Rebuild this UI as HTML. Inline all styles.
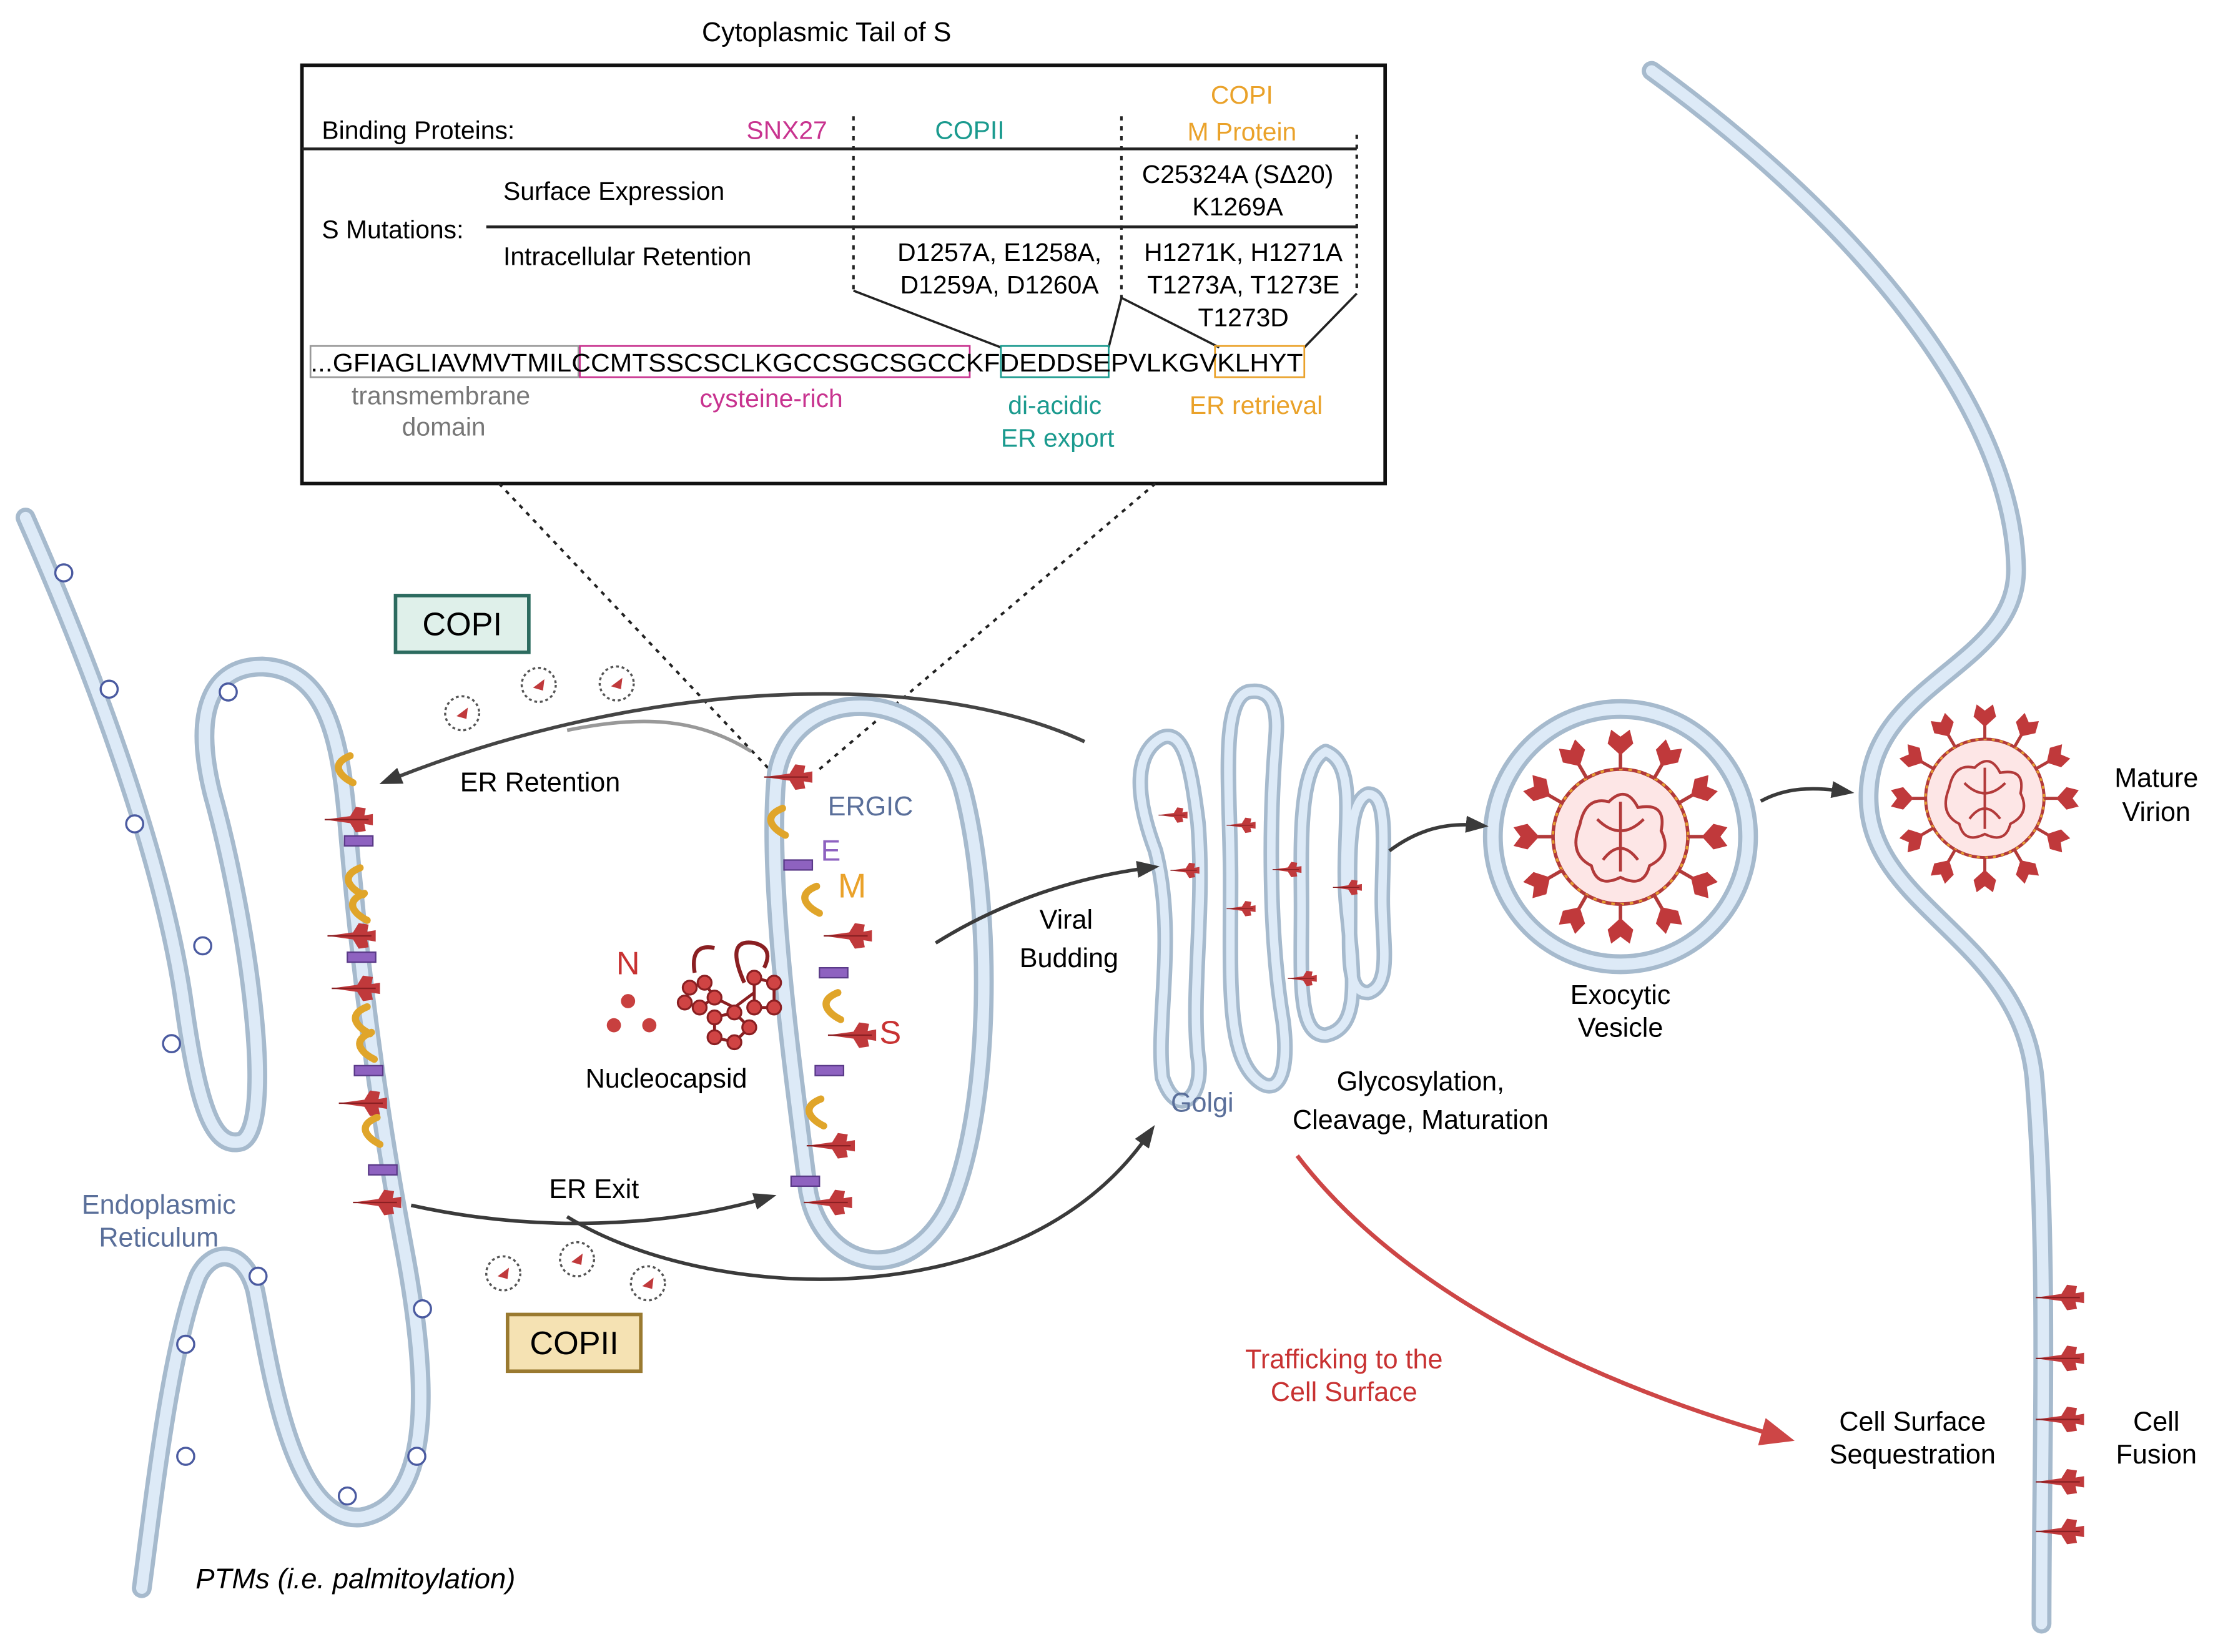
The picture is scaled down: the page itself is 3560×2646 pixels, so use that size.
<!DOCTYPE html>
<html><head><meta charset="utf-8"><style>
html,body{margin:0;padding:0;background:#fff}
svg{display:block}
text{font-family:"Liberation Sans",sans-serif}
</style></head><body>
<svg width="3560" height="2646" viewBox="0 0 1568 1165" preserveAspectRatio="none" xmlns="http://www.w3.org/2000/svg">
<defs>
<marker id="ah" markerWidth="16" markerHeight="12" refX="8" refY="6" orient="auto" markerUnits="userSpaceOnUse"><path d="M0,0 L16,6 L0,12 Z" fill="#3a3a3a"/></marker>
<marker id="ahr" markerWidth="24" markerHeight="20" refX="20" refY="10" orient="auto" markerUnits="userSpaceOnUse"><path d="M0,0 L24,10 L0,20 Z" fill="#c83232"/></marker>
<g id="spk"><path d="M-16,0 L2,-2.5 L6,-9 L13,-8 L12,-3 L18,-4 L18,4 L12,3 L13,8 L6,9 L2,2.5 Z" fill="#c0393b"/><path d="M-16,0 L15,0" stroke="#8a1f22" stroke-width="1"/></g>
<g id="mp"><path d="M4,-10 Q-6,-6 -4,0 Q-2,5 6,9" fill="none" stroke="#e0a52a" stroke-width="5" stroke-linecap="round"/></g>
<g id="ep"><rect x="-10" y="-3.5" width="20" height="7" fill="#8e62c0" stroke="#5a3a88" stroke-width="1"/></g>
<g id="ves"><circle r="12" fill="#fff" stroke="#555" stroke-width="1.5" stroke-dasharray="2 2"/><path d="M-4,2 L4,-4 L3,4 Z" fill="#c0393b"/></g>
<g id="vir">
<circle r="58" fill="#fde6e6" stroke="#b23a3a" stroke-width="3"/>
<circle r="58" fill="none" stroke="#e5a030" stroke-width="2" stroke-dasharray="3 5"/>
<g fill="#c0393b">
<g id="sp1"><path d="M0,-58 L0,-74" stroke="#b23a3a" stroke-width="3"/><path d="M0,-70 L-11,-80 L-8,-92 L0,-86 L8,-92 L11,-80 Z"/></g>
<use href="#sp1" transform="rotate(30)"/><use href="#sp1" transform="rotate(60)"/><use href="#sp1" transform="rotate(90)"/><use href="#sp1" transform="rotate(120)"/><use href="#sp1" transform="rotate(150)"/><use href="#sp1" transform="rotate(180)"/><use href="#sp1" transform="rotate(210)"/><use href="#sp1" transform="rotate(240)"/><use href="#sp1" transform="rotate(270)"/><use href="#sp1" transform="rotate(300)"/><use href="#sp1" transform="rotate(330)"/>
</g>
<g fill="none" stroke="#b23a3a" stroke-width="2.5">
<path d="M-35,-10 Q-30,-35 -10,-30 Q5,-45 15,-25 Q40,-30 35,-5 Q45,15 25,25 Q20,45 0,35 Q-20,45 -25,25 Q-45,15 -35,-10 Z"/>
<path d="M-20,-15 Q0,5 20,-15 M-15,20 Q0,0 15,20 M0,-30 L0,30"/>
</g>
</g>
</defs>

<!-- Top table -->
<text x="583" y="29" font-size="19" text-anchor="middle">Cytoplasmic Tail of S</text>
<rect x="213" y="46" width="764" height="295" fill="none" stroke="#111" stroke-width="2.5"/>
<line x1="213" y1="105" x2="957" y2="105" stroke="#222" stroke-width="2"/>
<line x1="343" y1="160" x2="957" y2="160" stroke="#222" stroke-width="2"/>
<g stroke="#222" stroke-width="1.8" stroke-dasharray="3 4">
<line x1="602" y1="82" x2="602" y2="205"/><line x1="791" y1="82" x2="791" y2="210"/><line x1="957" y1="95" x2="957" y2="207"/>
<line x1="352" y1="341" x2="545" y2="545"/><line x1="815" y1="341" x2="575" y2="545"/>
</g>
<g stroke="#222" stroke-width="1.6" fill="none">
<path d="M602,205 L706,245"/><path d="M791,210 L782,245"/><path d="M791,210 L860,245"/><path d="M957,207 L920,245"/>
</g>
<g font-size="18">
<text x="227" y="98">Binding Proteins:</text>
<text x="555" y="98" text-anchor="middle" fill="#c8338f">SNX27</text>
<text x="684" y="98" text-anchor="middle" fill="#1a9a8e">COPII</text>
<text x="876" y="73" text-anchor="middle" fill="#eaa22a">COPI</text>
<text x="876" y="99" text-anchor="middle" fill="#eaa22a">M Protein</text>
<text x="227" y="168">S Mutations:</text>
<text x="355" y="141">Surface Expression</text>
<text x="355" y="187">Intracellular Retention</text>
<text x="873" y="129" text-anchor="middle">C25324A (SΔ20)</text>
<text x="873" y="152" text-anchor="middle">K1269A</text>
<text x="705" y="184" text-anchor="middle">D1257A, E1258A,</text>
<text x="705" y="207" text-anchor="middle">D1259A, D1260A</text>
<text x="877" y="184" text-anchor="middle">H1271K, H1271A</text>
<text x="877" y="207" text-anchor="middle">T1273A, T1273E</text>
<text x="877" y="230" text-anchor="middle">T1273D</text>
</g>
<rect x="219" y="244" width="189" height="22" fill="none" stroke="#999" stroke-width="1.2"/>
<rect x="409" y="244" width="275" height="22" fill="none" stroke="#c8338f" stroke-width="1.2"/>
<rect x="706" y="244" width="76" height="22" fill="none" stroke="#1a9a8e" stroke-width="1.2"/>
<rect x="857" y="244" width="63" height="22" fill="none" stroke="#eaa22a" stroke-width="1.2"/>
<text x="219" y="262" font-size="18" textLength="700" lengthAdjust="spacingAndGlyphs">...GFIAGLIAVMVTMILCCMTSSCSCLKGCCSGCSGCCKFDEDDSEPVLKGVKLHYT</text>
<g font-size="18" text-anchor="middle">
<text x="311" y="285" fill="#777">transmembrane</text>
<text x="313" y="307" fill="#777">domain</text>
<text x="544" y="287" fill="#c8338f">cysteine-rich</text>
<text x="744" y="292" fill="#1a9a8e">di-acidic</text>
<text x="746" y="315" fill="#1a9a8e">ER export</text>
<text x="886" y="292" fill="#eaa22a">ER retrieval</text>
</g>

<!-- Membranes -->
<g fill="none" stroke-linecap="round" stroke-linejoin="round">
<g stroke="#a6bacd" stroke-width="14">
<path id="er" d="M18,365 C60,460 115,600 130,710 C140,780 150,810 170,805 C195,795 175,650 150,560 C135,500 150,470 185,470 C230,472 240,520 245,580 C255,700 270,800 285,880 C300,960 310,1060 255,1070 C205,1075 190,960 180,910 C172,880 150,880 140,900 C120,950 108,1060 100,1120"/>
<path id="pm" d="M1165,50 C1330,170 1420,300 1422,400 C1424,470 1320,480 1318,560 C1316,640 1425,660 1435,760 C1445,880 1440,1020 1440,1145"/>
<path id="ergic" d="M548,545 C560,480 660,480 680,560 C700,640 700,780 670,850 C640,910 580,895 570,840 C560,760 540,620 548,545 Z"/>
<circle id="ev" cx="1143" cy="590" r="90"/>
</g>
<g stroke="#a6bacd" stroke-width="11">
<path id="g1" d="M820,520 C800,530 800,560 815,600 C830,660 815,720 820,760 C830,790 850,775 845,745 C840,700 850,640 845,580 C840,540 835,515 820,520 Z"/>
<path id="g2" d="M880,488 C860,495 868,560 868,620 C868,690 865,740 885,760 C900,775 910,760 905,720 C895,660 895,580 900,520 C902,495 895,485 880,488 Z"/>
<path id="g3" d="M935,530 C915,540 918,600 918,640 C918,690 915,730 935,730 C960,725 955,690 950,640 C945,590 960,540 935,530 Z"/>
<path id="g4" d="M965,560 C950,565 952,610 952,640 C952,675 950,700 965,700 C982,695 975,665 975,635 C975,600 980,560 965,560 Z"/>
</g>
<g stroke="#ddeaf7" stroke-width="8">
<use href="#er"/><use href="#pm"/><use href="#ergic"/><use href="#ev"/>
</g>
<g stroke="#ddeaf7" stroke-width="6">
<use href="#g1"/><use href="#g2"/><use href="#g3"/><use href="#g4"/>
</g>
</g>
<g fill="#fff" stroke="#4a5aa0" stroke-width="1.5">
<circle cx="45" cy="404" r="6"/><circle cx="77" cy="486" r="6"/><circle cx="95" cy="581" r="6"/><circle cx="143" cy="667" r="6"/><circle cx="121" cy="736" r="6"/><circle cx="161" cy="488" r="6"/>
<circle cx="182" cy="900" r="6"/><circle cx="131" cy="948" r="6"/><circle cx="131" cy="1027" r="6"/><circle cx="245" cy="1055" r="6"/><circle cx="294" cy="1027" r="6"/><circle cx="298" cy="923" r="6"/>
</g>

<!-- ER proteins -->
<use href="#mp" x="243" y="543"/><use href="#spk" x="245" y="578"/><use href="#ep" x="253" y="593"/>
<use href="#mp" x="250" y="622"/><use href="#mp" x="253" y="640"/><use href="#spk" x="247" y="660"/><use href="#ep" x="255" y="675"/>
<use href="#spk" x="250" y="697"/><use href="#mp" x="255" y="720"/><use href="#mp" x="258" y="738"/><use href="#ep" x="260" y="755"/>
<use href="#spk" x="255" y="778"/><use href="#mp" x="262" y="798"/><use href="#ep" x="270" y="825"/><use href="#spk" x="265" y="848"/>
<!-- ERGIC proteins -->
<use href="#spk" x="555" y="548"/><use href="#mp" x="548" y="580"/><use href="#ep" x="563" y="610"/><use href="#mp" x="572" y="635"/>
<use href="#spk" x="597" y="660"/><use href="#ep" x="588" y="686"/><use href="#mp" x="587" y="710"/><use href="#spk" x="600" y="730"/>
<use href="#ep" x="585" y="755"/><use href="#mp" x="575" y="785"/><use href="#spk" x="585" y="808"/><use href="#ep" x="568" y="833"/><use href="#spk" x="583" y="848"/>
<!-- golgi spikes -->
<g transform="scale(0.6)">
<use href="#spk" x="1378" y="958"/><use href="#spk" x="1392" y="1023"/><use href="#spk" x="1458" y="970"/><use href="#spk" x="1458" y="1068"/><use href="#spk" x="1512" y="1022"/><use href="#spk" x="1583" y="1043"/><use href="#spk" x="1530" y="1150"/>
</g>
<!-- PM spikes -->
<use href="#spk" x="1452" y="915"/><use href="#spk" x="1452" y="958"/><use href="#spk" x="1452" y="1001"/><use href="#spk" x="1452" y="1045"/><use href="#spk" x="1452" y="1080"/>

<!-- nucleocapsid -->
<g fill="#c8403f"><circle cx="443" cy="706" r="5"/><circle cx="433" cy="723" r="5"/><circle cx="458" cy="723" r="5"/></g>
<g transform="translate(518,700) scale(0.7)">
<path d="M-40,-20 Q-45,-50 -20,-45 M10,-10 Q-10,-55 20,-50 Q40,-45 30,-25" fill="none" stroke="#8a1f22" stroke-width="4"/>
<g fill="none" stroke="#8a1f22" stroke-width="3"><path d="M-45,-5 L-30,-10 L-20,5 L-35,15 L-50,10 Z"/><path d="M20,-15 L40,-10 L40,15 L20,15 Z"/><path d="M-20,25 L0,20 L15,35 L0,50 L-20,45 Z"/><path d="M-20,5 L0,15 L20,0"/></g>
<g fill="#d04444" stroke="#8a1f22" stroke-width="2"><circle cx="-45" cy="-5" r="7"/><circle cx="-30" cy="-10" r="7"/><circle cx="-20" cy="5" r="7"/><circle cx="-35" cy="15" r="7"/><circle cx="-50" cy="10" r="7"/><circle cx="20" cy="-15" r="7"/><circle cx="40" cy="-10" r="7"/><circle cx="40" cy="15" r="7"/><circle cx="20" cy="15" r="7"/><circle cx="-20" cy="25" r="7"/><circle cx="0" cy="20" r="7"/><circle cx="15" cy="35" r="7"/><circle cx="0" cy="50" r="7"/><circle cx="-20" cy="45" r="7"/></g>
</g>

<!-- virions -->
<g transform="translate(1143,590) scale(0.82)"><use href="#vir"/></g>
<g transform="translate(1400,563) scale(0.72)"><use href="#vir"/></g>

<!-- vesicles -->
<use href="#ves" x="326" y="503"/><use href="#ves" x="380" y="483"/><use href="#ves" x="435" y="482"/>
<use href="#ves" x="355" y="898"/><use href="#ves" x="407" y="888"/><use href="#ves" x="457" y="905"/>

<!-- arrows -->
<g fill="none" stroke="#3a3a3a" stroke-width="2.5">
<path d="M765,523 C650,470 450,480 275,550" marker-end="url(#ah)" stroke="#444"/>
<path d="M530,530 C490,505 450,505 400,515" stroke="#999"/>
<path d="M290,850 C380,870 470,865 540,845" marker-end="url(#ah)"/>
<path d="M400,858 C500,920 720,930 810,800" marker-end="url(#ah)"/>
<path d="M660,665 C700,640 750,620 810,612" marker-end="url(#ah)"/>
<path d="M980,600 C1000,585 1020,580 1042,582" marker-end="url(#ah)"/>
<path d="M1242,565 C1260,555 1280,555 1300,558" marker-end="url(#ah)"/>
</g>
<path d="M915,815 C980,900 1100,970 1262,1015" fill="none" stroke="#c83232" stroke-width="3" marker-end="url(#ahr)" opacity="0.9"/>

<!-- boxes -->
<rect x="279" y="420" width="94" height="40" fill="#dff0ea" stroke="#2c6b5f" stroke-width="2.5"/>
<text x="326" y="448" font-size="23" text-anchor="middle">COPI</text>
<rect x="358" y="927" width="94" height="40" fill="#f5e2b3" stroke="#9a7a30" stroke-width="2.5"/>
<text x="405" y="955" font-size="23" text-anchor="middle">COPII</text>

<!-- labels -->
<g font-size="19" text-anchor="middle">
<text x="381" y="558">ER Retention</text>
<text x="614" y="575" fill="#5a6f9a">ERGIC</text>
<text x="586" y="607" fill="#8e62c0" font-size="21">E</text>
<text x="601" y="633" fill="#eaa22a" font-size="24">M</text>
<text x="443" y="687" fill="#c83232" font-size="23">N</text>
<text x="628" y="736" fill="#c83232" font-size="23">S</text>
<text x="470" y="767">Nucleocapsid</text>
<text x="752" y="655">Viral</text>
<text x="754" y="682">Budding</text>
<text x="419" y="845">ER Exit</text>
<text x="112" y="856" fill="#5a6f9a">Endoplasmic</text>
<text x="112" y="879" fill="#5a6f9a">Reticulum</text>
<text x="848" y="784" fill="#5a6f9a">Golgi</text>
<text x="1002" y="769">Glycosylation,</text>
<text x="1002" y="796">Cleavage, Maturation</text>
<text x="1143" y="708">Exocytic</text>
<text x="1143" y="731">Vesicle</text>
<text x="1521" y="555">Mature</text>
<text x="1521" y="579">Virion</text>
<text x="948" y="965" fill="#c83232">Trafficking to the</text>
<text x="948" y="988" fill="#c83232">Cell Surface</text>
<text x="1349" y="1009">Cell Surface</text>
<text x="1349" y="1032">Sequestration</text>
<text x="1521" y="1009">Cell</text>
<text x="1521" y="1032">Fusion</text>
</g>
<text x="138" y="1120" font-size="20" font-style="italic">PTMs (i.e. palmitoylation)</text>
</svg>
</body></html>
